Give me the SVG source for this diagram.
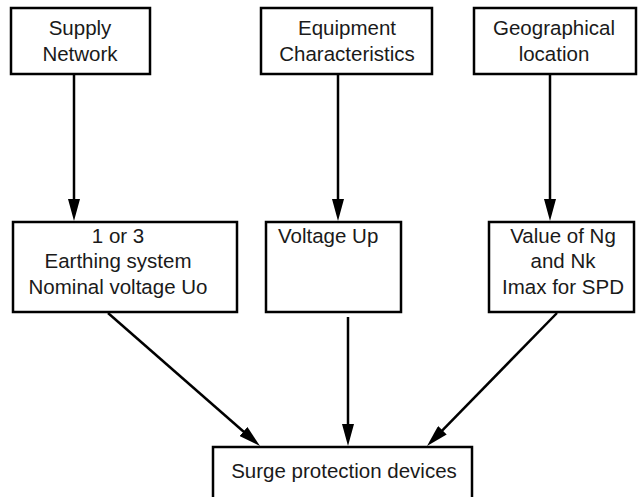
<svg xmlns="http://www.w3.org/2000/svg" width="638" height="497" viewBox="0 0 638 497">
<defs>
<style>
.box{fill:#fff;stroke:#000;stroke-width:2.5}
.t{font-family:"Liberation Sans",Arial,sans-serif;font-size:20.5px;fill:#1a1a1a;text-anchor:middle}
.c{stroke:#000;stroke-width:2.5;fill:none;marker-end:url(#ah)}
</style>
<marker id="ah" viewBox="0 0 22 12" refX="14" refY="6" markerWidth="22" markerHeight="12" markerUnits="userSpaceOnUse" orient="auto">
<path d="M0,0 L22,6 L0,12 z" fill="#000"/>
</marker>
</defs>
<rect width="638" height="497" fill="#fff"/>
<g id="supply">
<rect class="box" x="11" y="8" width="139" height="66"/>
<text class="t" x="80" y="35">Supply</text>
<text class="t" x="80" y="61">Network</text>
</g>
<g id="equipment">
<rect class="box" x="261" y="8" width="171" height="66"/>
<text class="t" x="347" y="35">Equipment</text>
<text class="t" x="347" y="61">Characteristics</text>
</g>
<g id="geo">
<rect class="box" x="474" y="8" width="162" height="66"/>
<text class="t" x="554" y="35">Geographical</text>
<text class="t" x="554" y="61">location</text>
</g>
<g id="earthing">
<rect class="box" x="13" y="222" width="224" height="90"/>
<text class="t" x="118" y="243">1 or 3</text>
<text class="t" x="118" y="268">Earthing system</text>
<text class="t" x="118" y="294">Nominal voltage Uo</text>
</g>
<g id="voltage">
<rect class="box" x="266" y="222" width="135" height="90"/>
<text class="t" x="278" y="243" style="text-anchor:start">Voltage Up</text>
</g>
<g id="value">
<rect class="box" x="489" y="222" width="145" height="90"/>
<text class="t" x="563" y="243">Value of Ng</text>
<text class="t" x="563" y="268">and Nk</text>
<text class="t" x="563" y="294">Imax for SPD</text>
</g>
<g id="spd">
<rect class="box" x="213" y="447" width="259" height="60"/>
<text class="t" x="344" y="478">Surge protection devices</text>
</g>
<g id="connectors">
<line class="c" x1="74" y1="74" x2="74" y2="213"/>
<line class="c" x1="338" y1="74" x2="338" y2="213"/>
<line class="c" x1="550" y1="74" x2="550" y2="213"/>
<line class="c" x1="108" y1="313" x2="254" y2="440.7"/>
<line class="c" x1="348" y1="317" x2="348" y2="438"/>
<line class="c" x1="557" y1="313" x2="432.6" y2="440.3"/>
</g>
</svg>
